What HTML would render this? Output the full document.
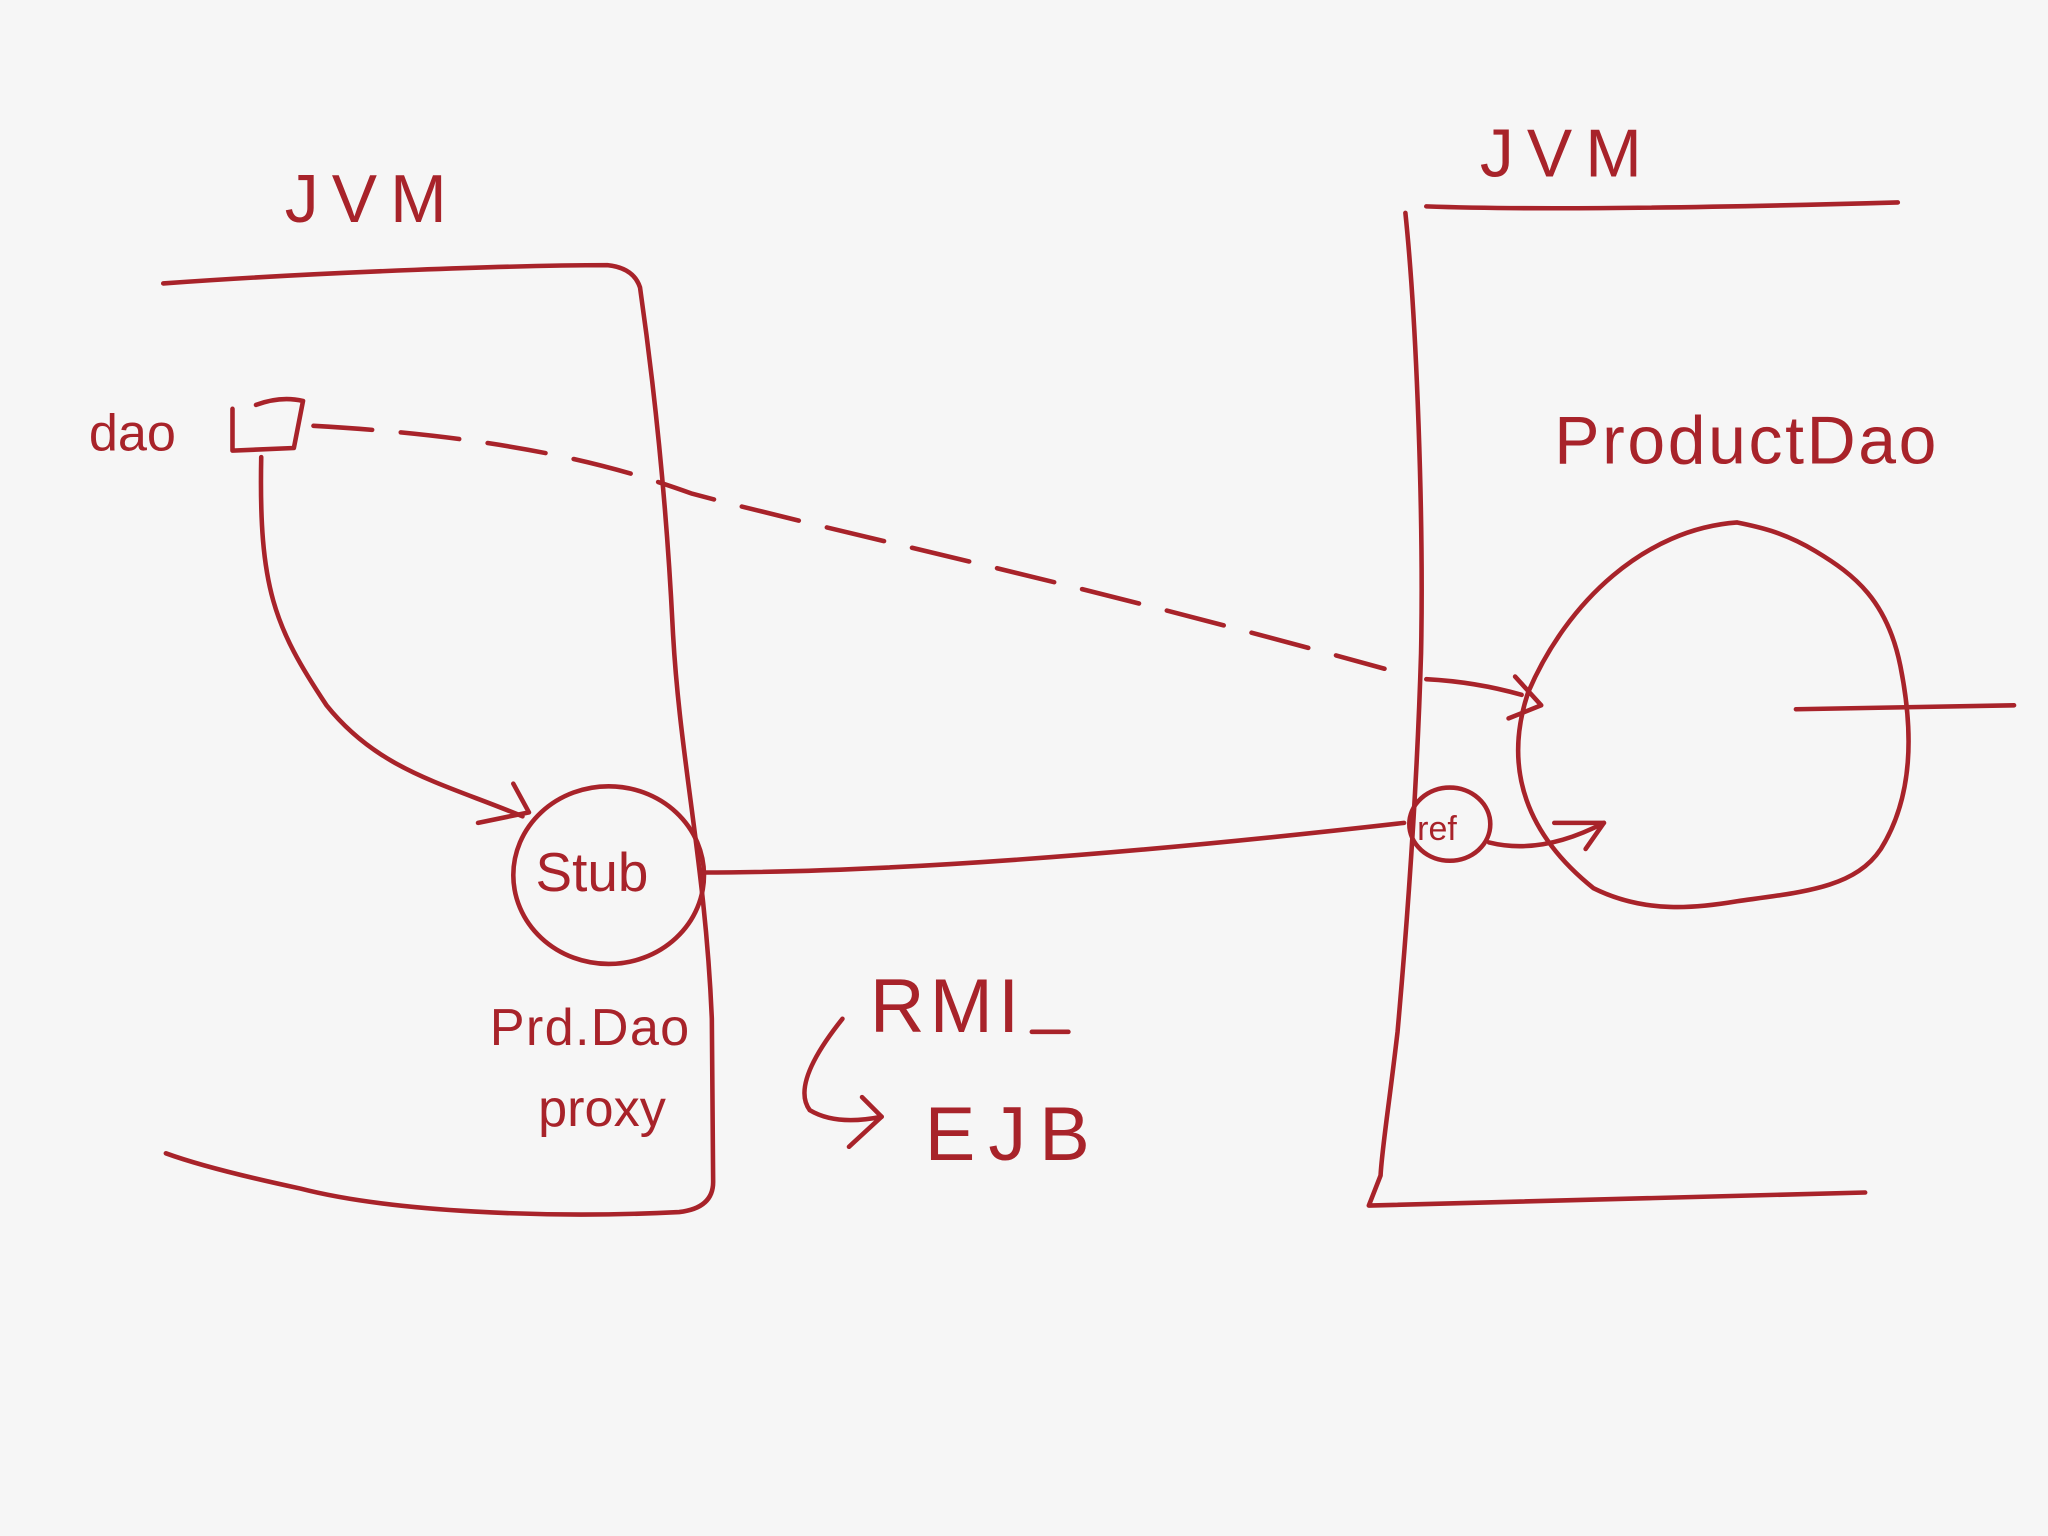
<!DOCTYPE html>
<html><head><meta charset="utf-8"><style>
html,body{margin:0;padding:0;background:#f6f6f6;}
svg{display:block;}
text{font-family:"Liberation Sans",sans-serif;fill:#a8232a;font-weight:normal;}
</style></head><body>
<svg width="2048" height="1536" viewBox="0 0 1568 1176" xmlns="http://www.w3.org/2000/svg">
<rect width="1568" height="1176" fill="#f6f6f6"/>
<g fill="none" stroke="#a8232a" stroke-width="3.5" stroke-linecap="round" stroke-linejoin="round">
<path d="M125,217 C250,208 400,203 465,203 Q485,205 490,220 C500,290 510,380 515,480 C520,580 540,660 545,780 L546,905 Q546,925 520,928 C420,933 300,928 230,910 Q160,895 127,883"/>
<path d="M1076,163 C1085,250 1090,400 1088,500 C1085,600 1078,700 1070,790 C1063,850 1058,880 1057,900 L1048,923 L1428,913"/>
<path d="M1092,158 Q1200,162 1453,155"/>
<path d="M178,313 L178,345 L225,343 L232,307 Q215,303 196,310"/>
<path d="M200,350 C198,450 210,480 250,540 C290,590 340,600 400,625"/>
<path d="M366,630 L405,622 L393,600"/>
<ellipse cx="466" cy="670" rx="73" ry="68"/>
<path d="M537,668 C700,668 900,650 1075,630"/>
<ellipse cx="1110" cy="631" rx="31" ry="28"/>
<path d="M1140,645 Q1180,655 1228,630"/>
<path d="M1190,630 L1228,630 L1214,650"/>
<path d="M240,326 C400,335 480,360 530,378 C650,410 800,440 1060,512" stroke-dasharray="45,22"/>
<path d="M1092,520 Q1130,522 1165,532"/>
<path d="M1160,518 L1180,540 L1155,550"/>
<path d="M1330,400 C1260,405 1200,460 1170,530 C1150,590 1170,640 1220,680 C1260,700 1300,695 1330,690 C1380,683 1420,680 1440,650 C1465,610 1465,560 1455,510 C1445,460 1420,440 1390,422 C1365,407 1345,403 1330,400"/>
<path d="M1375,543 L1542,540"/>
<path d="M645,780 Q605,830 620,850 Q640,862 675,855"/>
<path d="M660,840 L675,855 L650,878"/>
<path d="M790,790 L818,790"/>
</g>
<text x="218" y="170" font-size="52" letter-spacing="10">JVM</text>
<text x="1133" y="135" font-size="52" letter-spacing="10">JVM</text>
<text x="68" y="345" font-size="40">dao</text>
<text x="410" y="682" font-size="42">Stub</text>
<text x="1085" y="643" font-size="26">ref</text>
<text x="1190" y="355" font-size="52" letter-spacing="2">ProductDao</text>
<text x="375" y="800" font-size="40" letter-spacing="1">Prd.Dao</text>
<text x="412" y="862" font-size="40">proxy</text>
<text x="666" y="790" font-size="58" letter-spacing="4">RMI</text>
<text x="708" y="888" font-size="58" letter-spacing="10">EJB</text>
</svg>
</body></html>
